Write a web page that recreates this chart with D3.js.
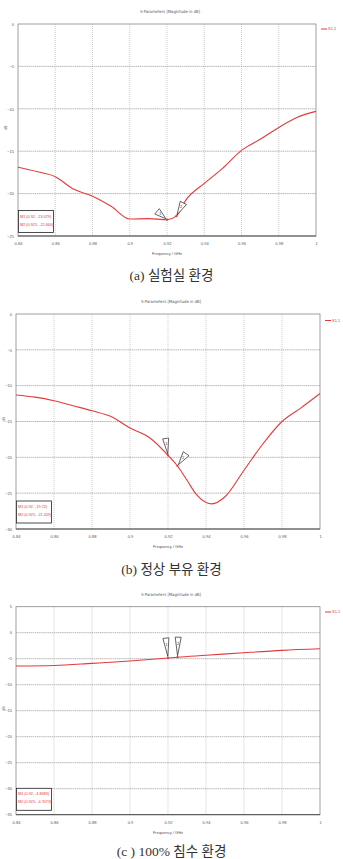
<!DOCTYPE html>
<html>
<head>
<meta charset="utf-8">
<script src="https://cdn.jsdelivr.net/npm/d3@7"></script>
<style>
  html, body { margin: 0; padding: 0; background: #fff; }
  svg { display: block; }
</style>
</head>
<body>
<div id="viz"></div>
<script>
// data
const xTicks = [0.84, 0.86, 0.88, 0.9, 0.92, 0.94, 0.96, 0.98, 1];
const xTickLabels = ['0.84', '0.86', '0.88', '0.9', '0.92', '0.94', '0.96', '0.98', '1'];

const freqA = [0.84, 0.85, 0.86, 0.87, 0.88, 0.89, 0.9, 0.91, 0.92, 0.925, 0.93, 0.94, 0.95, 0.96, 0.97, 0.98, 0.99, 1];
const magA = [-16.9, -17.4, -18.0, -19.5, -20.3, -21.5, -23.0, -22.95, -23.08, -22.66, -20.8, -18.8, -17.0, -14.9, -13.6, -12.2, -11.0, -10.3];
const yTicksA = [0, -5, -10, -15, -20, -25];
const markersA = [[0.92, -23.079], [0.925, -22.66]];
const markerTextA = ['(0.92, -23.079)', '(0.925, -22.660)'];

const freqB = [0.84, 0.85, 0.86, 0.87, 0.88, 0.89, 0.9, 0.91, 0.92, 0.925, 0.93, 0.935, 0.94, 0.943, 0.95, 0.96, 0.97, 0.98, 0.99, 1];
const magB = [-11.3, -11.6, -12.1, -12.8, -13.5, -14.3, -15.9, -17.2, -19.72, -21.21, -23.2, -25.2, -26.3, -26.5, -25.5, -21.8, -18.1, -15.0, -13.1, -11.1];
const yTicksB = [0, -5, -10, -15, -20, -25, -30];
const markersB = [[0.92, -19.72], [0.925, -21.209]];
const markerTextB = ['(0.92, -19.72)', '(0.925, -21.209)'];

const freqC = [0.84, 0.86, 0.88, 0.9, 0.92, 0.925, 0.94, 0.96, 0.98, 1];
const magC = [-6.4, -6.3, -5.9, -5.45, -4.868, -4.707, -4.35, -3.85, -3.4, -3.1];
const yTicksC = [5, 0, -5, -10, -15, -20, -25, -30, -35];
const markersC = [[0.92, -4.8683], [0.925, -4.7073]];
const markerTextC = ['(0.92, -4.8683)', '(0.925, -4.7073)'];

const captions = ['(a) 실험실 환경', '(b) 정상 부유 환경', '(c ) 100% 침수 환경'];

const W = 343, H = 859;
const red = '#e23b3b';

const svg = d3.select('#viz').append('svg')
  .attr('width', W)
  .attr('height', H)
  .attr('viewBox', `0 0 ${W} ${H}`);

// one panel = one S11 plot plus its caption
function drawPanel(p) {
  const x = d3.scaleLinear().domain([0.84, 1]).range([p.left, p.right]);
  const y = d3.scaleLinear().domain(p.yDomain).range([p.bottom, p.top]);
  const g = svg.append('g');

  g.append('text')
    .attr('x', (p.left + p.right) / 2 + 3).attr('y', p.top - 11)
    .attr('text-anchor', 'middle')
    .style('font', '4.2px "Liberation Sans Narrow", "DejaVu Sans Condensed", sans-serif')
    .style('fill', '#555')
    .text('S-Parameters [Magnitude in dB]');

  // grid
  g.selectAll('.vg').data(xTicks.slice(1, -1)).join('line')
    .attr('x1', d => x(d)).attr('x2', d => x(d))
    .attr('y1', p.top).attr('y2', p.bottom)
    .attr('stroke', '#aaa').attr('stroke-width', 0.6)
    .attr('stroke-dasharray', '1,1');
  g.selectAll('.hg').data(p.yTicks.slice(1, -1)).join('line')
    .attr('x1', p.left).attr('x2', p.right)
    .attr('y1', d => y(d)).attr('y2', d => y(d))
    .attr('stroke', '#999').attr('stroke-width', 0.7)
    .attr('stroke-dasharray', '1.5,0.6');

  // frame
  g.append('rect')
    .attr('x', p.left).attr('y', p.top)
    .attr('width', p.right - p.left).attr('height', p.bottom - p.top)
    .attr('fill', 'none').attr('stroke', '#888').attr('stroke-width', 0.8);
  g.append('line')
    .attr('x1', p.left).attr('x2', p.right)
    .attr('y1', p.bottom).attr('y2', p.bottom)
    .attr('stroke', '#444').attr('stroke-width', 0.9);

  // axes
  const xAxis = d3.axisBottom(x).tickValues(xTicks)
    .tickFormat((d, i) => xTickLabels[i]).tickSize(0).tickPadding(6);
  const ax = g.append('g').attr('transform', `translate(0,${p.bottom})`).call(xAxis);
  ax.select('.domain').remove();
  ax.selectAll('text')
    .style('font', '4px "Liberation Sans Narrow", sans-serif').style('fill', '#555');

  const yAxis = d3.axisLeft(y).tickValues(p.yTicks).tickSize(0).tickPadding(4);
  const ay = g.append('g').attr('transform', `translate(${p.left},0)`).call(yAxis);
  ay.select('.domain').remove();
  ay.selectAll('text')
    .style('font', '4px "Liberation Sans Narrow", sans-serif').style('fill', '#555');

  g.append('text')
    .attr('transform', `translate(${p.left - 11},${p.top + (p.bottom - p.top) * 0.49}) rotate(-90)`)
    .attr('text-anchor', 'middle')
    .style('font', '3.6px "Liberation Sans Narrow", sans-serif').style('fill', '#555')
    .text('dB');

  g.append('text')
    .attr('x', (p.left + p.right) / 2).attr('y', p.bottom + 19)
    .attr('text-anchor', 'middle')
    .style('font', '4px "Liberation Sans Narrow", sans-serif').style('fill', '#555')
    .text('Frequency / GHz');

  // legend
  g.append('line')
    .attr('x1', p.right + 5).attr('x2', p.right + 11)
    .attr('y1', p.legendY).attr('y2', p.legendY)
    .attr('stroke', red).attr('stroke-width', 1);
  g.append('text')
    .attr('x', p.right + 12).attr('y', p.legendY + 1.4)
    .style('font', '4px "Liberation Sans Narrow", sans-serif').style('fill', red)
    .text('S1,1');

  // curve
  const line = d3.line().x((d, i) => x(p.freq[i])).y(d => y(d)).curve(d3.curveMonotoneX);
  g.append('path').datum(p.mag)
    .attr('d', line)
    .attr('fill', 'none').attr('stroke', red).attr('stroke-width', 1.1);

  // markers
  g.selectAll('.mk').data(p.markers).join('circle')
    .attr('cx', d => x(d[0])).attr('cy', d => y(d[1]))
    .attr('r', 1.1).attr('fill', red);

  p.markers.forEach((m, i) => {
    const px = x(m[0]), py = y(m[1]);
    const t = p.tri[i];
    const a = t.angle * Math.PI / 180;
    const ux = Math.cos(a), uy = Math.sin(a);
    const tipX = px + ux * 1.5, tipY = py + uy * 1.5;
    const bx = px + ux * t.len, by = py + uy * t.len;
    const nx = -uy * t.w / 2, ny = ux * t.w / 2;
    g.append('path')
      .attr('d', `M${tipX},${tipY}L${bx + nx},${by + ny}L${bx - nx},${by - ny}Z`)
      .attr('fill', '#fff').attr('stroke', '#222').attr('stroke-width', 0.7);
    g.append('text')
      .attr('x', px + ux * t.len * 0.68).attr('y', py + uy * t.len * 0.68 + 1.3)
      .attr('text-anchor', 'middle')
      .style('font', '3.6px "Liberation Sans Narrow", sans-serif').style('fill', '#222')
      .text(i + 1);
  });

  // marker readout box
  const bx0 = p.left + 0.5, by0 = p.boxTop;
  g.append('rect')
    .attr('x', bx0).attr('y', by0).attr('width', 35).attr('height', 22)
    .attr('fill', '#fff').attr('stroke', '#222').attr('stroke-width', 0.8);
  p.markerText.forEach((s, i) => {
    g.append('text')
      .attr('x', bx0 + 1.5).attr('y', by0 + 7 + i * 8)
      .style('font', '3.8px "Liberation Sans Narrow", sans-serif').style('fill', red)
      .text(`M${i + 1}  ${s}`);
  });

  // caption
  svg.append('text')
    .attr('x', W / 2).attr('y', p.captionY)
    .attr('text-anchor', 'middle')
    .style('font-family', '"Liberation Serif", "DejaVu Serif", "Noto Sans CJK KR", serif')
    .style('font-size', '13.5px')
    .style('font-weight', 'normal')
    .style('fill', '#333')
    .text(p.caption);
}

drawPanel({
  left: 18, right: 316, top: 24, bottom: 236, yDomain: [-25, 0], yTicks: yTicksA,
  freq: freqA, mag: magA, markers: markersA, markerText: markerTextA,
  tri: [{ angle: -140, len: 13, w: 7 }, { angle: -62, len: 15, w: 7 }],
  boxTop: 210.5, legendY: 29, captionY: 280, caption: captions[0]
});

drawPanel({
  left: 16, right: 320, top: 314, bottom: 529, yDomain: [-30, 0], yTicks: yTicksB,
  freq: freqB, mag: magB, markers: markersB, markerText: markerTextB,
  tri: [{ angle: -98, len: 17, w: 6 }, { angle: -55, len: 15, w: 7 }],
  boxTop: 501, legendY: 320.5, captionY: 574, caption: captions[1]
});

drawPanel({
  left: 16, right: 320, top: 606.7, bottom: 814.7, yDomain: [-35, 5], yTicks: yTicksC,
  freq: freqC, mag: magC, markers: markersC, markerText: markerTextC,
  tri: [{ angle: -96, len: 20, w: 6 }, { angle: -88, len: 20, w: 6 }],
  boxTop: 788.3, legendY: 612, captionY: 856, caption: captions[2]
});
</script>
</body>
</html>
